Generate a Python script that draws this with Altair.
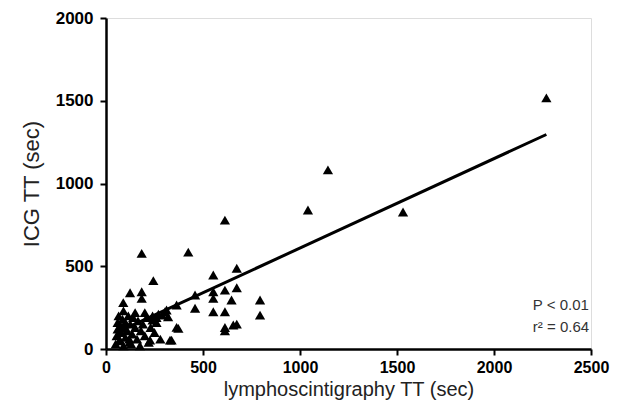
import altair as alt
import pandas as pd

# lymphoscintigraphy TT (sec)
lymph_tt = [
    2270, 1531, 1144, 1041, 613,
    424, 184, 244, 124, 184, 184, 89,
    304, 320, 338, 364, 364, 373, 459, 459,
    553, 553, 553, 553, 613, 613, 613, 613, 647, 656,
    674, 674, 674, 794, 794, 290, 260, 240, 312,
    50, 55, 60, 60, 65, 70, 75, 80, 85, 90, 95, 100, 100, 110,
    115, 120, 125, 135, 140, 150, 160, 165, 175, 180, 190, 200,
    210, 220, 230, 240, 250, 260, 270, 280, 150, 200, 90, 120,
    70, 130, 72, 227, 330,
]
# ICG TT (sec)
icg_tt = [
    1517, 828, 1082, 840, 779,
    585, 578, 413, 340, 346, 306, 280,
    225, 195, 54, 266, 131, 125, 326, 246,
    447, 346, 306, 225, 356, 225, 130, 110, 296, 145,
    488, 370, 150, 296, 205, 205, 190, 175, 236,
    30, 80, 120, 160, 200, 50, 140, 100, 180, 20, 130, 70, 160, 110,
    200, 40, 150, 90, 190, 130, 60, 170, 20, 110, 150, 80,
    190, 40, 130, 200, 100, 160, 210, 60, 220, 220, 230, 60,
    100, 30, 54, 54, 54,
]

fit_x = [50, 2270]
fit_y = [97, 1296]

note_x = [2200, 2200]
note_y = [266, 133]
note_text = ["P < 0.01", "r\u00b2 = 0.64"]

pts = pd.DataFrame({"x": lymph_tt, "y": icg_tt})
fit = pd.DataFrame({"x": fit_x, "y": fit_y})
notes = pd.DataFrame({"x": note_x, "y": note_y, "t": note_text})

xs = alt.Scale(domain=[0, 2500], nice=False, zero=False)
ys = alt.Scale(domain=[0, 2000], nice=False, zero=False)

xaxis = alt.Axis(
    title="lymphoscintigraphy TT (sec)", values=[0, 500, 1000, 1500, 2000, 2500],
    format="d",
    grid=False, labelFontWeight="bold", labelFontSize=16, labelColor="black",
    labelPadding=4, titleFontSize=20, titleFontWeight="normal", titleColor="#222",
    titlePadding=4, domainColor="black", domainWidth=2.5, tickColor="black",
    tickWidth=2, tickSize=6, labelFlush=False,
)
yaxis = alt.Axis(
    title="ICG TT (sec)", values=[0, 500, 1000, 1500, 2000],
    format="d",
    grid=False, labelFontWeight="bold", labelFontSize=17, labelColor="black",
    labelPadding=7, titleFontSize=22, titleFontWeight="normal", titleColor="#222",
    titlePadding=12, domainColor="black", domainWidth=2.5, tickColor="black",
    tickWidth=2, tickSize=6, labelFlush=False,
)

points = alt.Chart(pts).mark_point(
    shape="triangle-up", filled=True, color="black", opacity=1, size=105
).encode(
    x=alt.X("x:Q", scale=xs, axis=xaxis),
    y=alt.Y("y:Q", scale=ys, axis=yaxis),
)

line = alt.Chart(fit).mark_line(color="black", strokeWidth=3).encode(
    x=alt.X("x:Q", scale=xs), y=alt.Y("y:Q", scale=ys)
)

text = alt.Chart(notes).mark_text(
    align="left", baseline="middle", fontSize=15, color="#333", font="Liberation Sans"
).encode(
    x=alt.X("x:Q", scale=xs), y=alt.Y("y:Q", scale=ys), text="t:N"
)

chart = alt.layer(line, points, text).properties(
    width=485, height=331,
    autosize=alt.AutoSizeParams(type="none"),
    padding={"left": 98, "top": 10, "right": 30, "bottom": 55},
).configure_view(stroke=None).configure(font="Liberation Sans", background="white")

chart.save("out.html", embed_options={"renderer": "svg", "actions": False})
